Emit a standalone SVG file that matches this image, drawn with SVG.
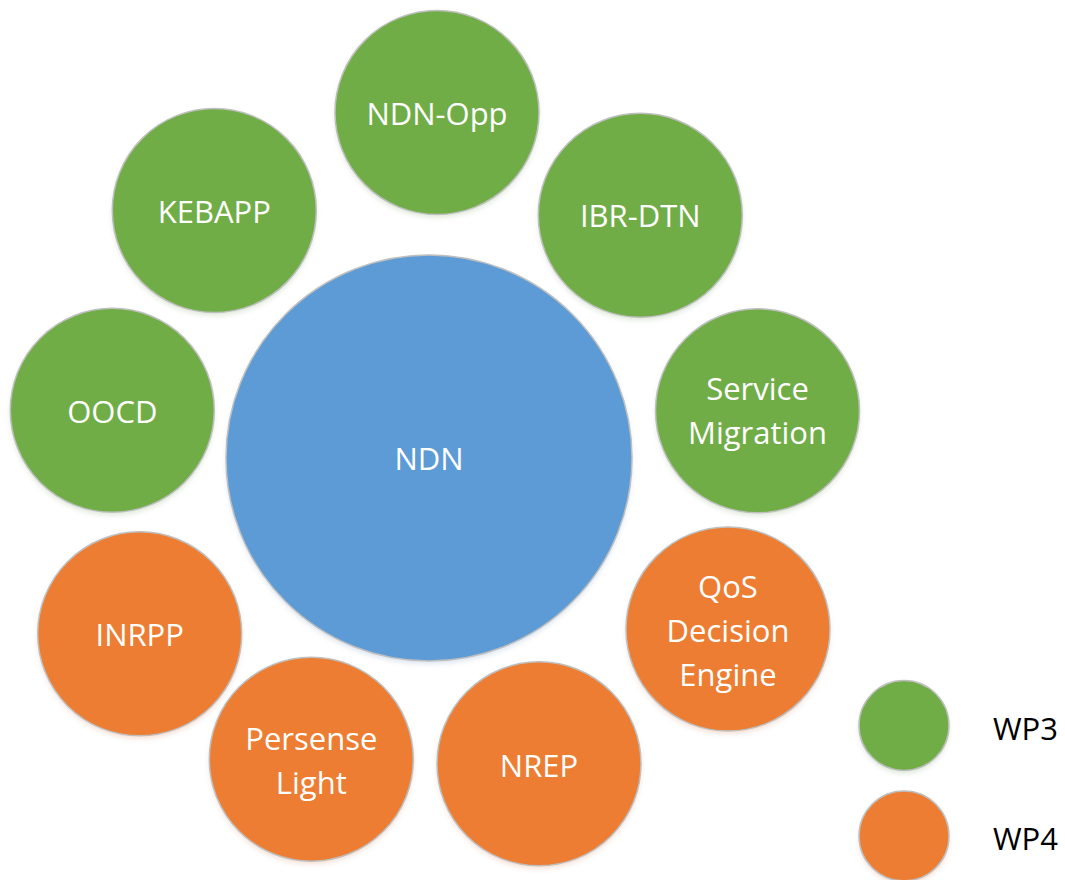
<svg xmlns="http://www.w3.org/2000/svg" width="1065" height="880" viewBox="0 0 1065 880">
<style>
  .c { stroke: #BFBFBF; stroke-width: 1.5; }
  .g { fill: #70AD47; }
  .b { fill: #5B9BD5; }
  .o { fill: #ED7D31; }
  .t { font-family: "Open Sans", "Noto Sans", "Liberation Sans", sans-serif; font-size: 31px; fill: #FFFFFF; text-anchor: middle; }
  .l { font-family: "Open Sans", "Noto Sans", "Liberation Sans", sans-serif; font-size: 31px; fill: #000000; }
</style>
<defs>
  <filter id="sh" x="-10%" y="-10%" width="120%" height="125%">
    <feGaussianBlur in="SourceGraphic" stdDeviation="2.5" result="bl"/>
    <feOffset in="bl" dx="0" dy="3" result="of"/>
    <feComponentTransfer in="of" result="fa"><feFuncA type="linear" slope="0.25"/></feComponentTransfer>
    <feMerge><feMergeNode in="fa"/><feMergeNode in="SourceGraphic"/></feMerge>
  </filter>
</defs>
<rect width="1065" height="880" fill="#FFFFFF"/>
<g id="connectors"></g>
<g id="ndn"><circle class="c b" filter="url(#sh)" cx="429" cy="458" r="203"/><text class="t" x="429" y="470">NDN</text></g>
<g id="ndn-opp"><circle class="c g" filter="url(#sh)" cx="437" cy="112.5" r="102"/><text class="t" x="437" y="125">NDN-Opp</text></g>
<g id="kebapp"><circle class="c g" filter="url(#sh)" cx="214.3" cy="210.5" r="102"/><text class="t" x="214.3" y="223">KEBAPP</text></g>
<g id="ibr-dtn"><circle class="c g" filter="url(#sh)" cx="640.3" cy="215.3" r="102"/><text class="t" x="640.3" y="227">IBR-DTN</text></g>
<g id="oocd"><circle class="c g" filter="url(#sh)" cx="112.3" cy="410.3" r="102"/><text class="t" x="112.3" y="422.5">OOCD</text></g>
<g id="service-migration"><circle class="c g" filter="url(#sh)" cx="757.5" cy="410.8" r="102"/><text class="t" x="757.5" y="400">Service</text><text class="t" x="757.5" y="444">Migration</text></g>
<g id="inrpp"><circle class="c o" filter="url(#sh)" cx="139.7" cy="633.8" r="102"/><text class="t" x="139.7" y="646">INRPP</text></g>
<g id="qos"><circle class="c o" filter="url(#sh)" cx="728" cy="629" r="102"/><text class="t" x="728" y="598">QoS</text><text class="t" x="728" y="642">Decision</text><text class="t" x="728" y="686">Engine</text></g>
<g id="persense"><circle class="c o" filter="url(#sh)" cx="311.3" cy="759.2" r="102"/><text class="t" x="311.3" y="750">Persense</text><text class="t" x="311.3" y="794">Light</text></g>
<g id="nrep"><circle class="c o" filter="url(#sh)" cx="539" cy="763.8" r="102"/><text class="t" x="539" y="777">NREP</text></g>
<g id="legend-wp3"><circle class="c g" filter="url(#sh)" cx="904" cy="725.5" r="45"/><text class="l" x="993" y="740">WP3</text></g>
<g id="legend-wp4"><circle class="c o" filter="url(#sh)" cx="904" cy="836" r="45"/><text class="l" x="993" y="850">WP4</text></g>
</svg>
